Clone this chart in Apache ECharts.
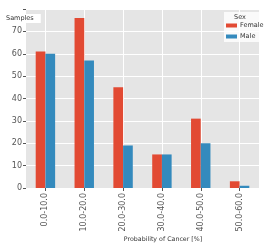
<!DOCTYPE html>
<html>
<head>
<meta charset="utf-8">
<script src="https://cdn.jsdelivr.net/npm/echarts@6/dist/echarts.min.js"></script>
<style>
html,body{margin:0;padding:0;background:#fff;}
#c{width:267px;height:244px;}
</style>
</head>
<body>
<div id="c"></div>
<script>
const categories = ['0.0-10.0', '10.0-20.0', '20.0-30.0', '30.0-40.0', '40.0-50.0', '50.0-60.0'];
const female = [61, 76, 45, 15, 31, 3];
const male = [60, 57, 19, 15, 20, 1];
const yTicks = [0, 10, 20, 30, 40, 50, 60, 70];

const font = 'DejaVu Sans';
const halfBands = [];
categories.forEach(c => { halfBands.push(c + 'a'); halfBands.push(c + 'b'); });

const chart = echarts.init(document.getElementById('c'), null, {renderer: 'canvas'});
chart.setOption({
  animation: false,
  backgroundColor: '#ffffff',
  textStyle: {fontFamily: font},
  title: [
    {text: 'Probability of Cancer [%]', left: 158, top: 231, textAlign: 'center',
     textStyle: {fontSize: 6.3, fontWeight: 'normal', color: '#333', fontFamily: font}},
    {text: 'Samples', left: 0, top: 14, backgroundColor: '#ffffff', padding: [1, 7, 1, 6],
     textStyle: {fontSize: 6.5, fontWeight: 'normal', color: '#333', fontFamily: font}},
    {text: 'Sex', left: 234, top: 14, padding: 0,
     textStyle: {fontSize: 6.5, fontWeight: 'normal', color: '#333', fontFamily: font}}
  ],
  legend: {
    orient: 'vertical', left: 224, top: 12, icon: 'rect',
    itemWidth: 11, itemHeight: 4, itemGap: 4,
    padding: [10, 0, 2, 2],
    backgroundColor: 'rgba(255,255,255,0.8)',
    textStyle: {fontSize: 6.5, color: '#333', fontFamily: font, padding: [0, 0, 0, -2]},
    data: ['Female', 'Male']
  },
  grid: {left: 26, right: 8, top: 9, bottom: 56, show: true, backgroundColor: '#E5E5E5', borderWidth: 0},
  xAxis: [
    {
      type: 'category', data: categories,
      axisLine: {show: false},
      axisTick: {show: true, alignWithLabel: true, length: 3, lineStyle: {color: '#555'}},
      axisLabel: {rotate: 90, fontSize: 8, color: '#555', margin: 5, fontFamily: font},
      splitLine: {show: false}
    },
    {
      type: 'category', data: halfBands, position: 'bottom',
      axisLine: {show: false}, axisTick: {show: false}, axisLabel: {show: false},
      splitLine: {show: true, interval: function (i) { return i % 2 === 1; }, lineStyle: {color: '#ffffff', width: 1}}
    }
  ],
  yAxis: {
    type: 'value', min: 0, max: 80, interval: 10,
    axisLine: {show: false},
    axisTick: {show: true, length: 3, lineStyle: {color: '#555'}},
    axisLabel: {fontSize: 8, color: '#555', margin: 4, fontFamily: font,
      formatter: v => (yTicks.indexOf(v) >= 0 ? String(v) : '')},
    splitLine: {show: true, lineStyle: {color: '#ffffff', width: 1}}
  },
  series: [
    {name: 'Female', type: 'bar', data: female, barWidth: '25%', barGap: '0%', itemStyle: {color: '#E24A33'}, xAxisIndex: 0},
    {name: 'Male', type: 'bar', data: male, barWidth: '25%', barGap: '0%', itemStyle: {color: '#348ABD'}, xAxisIndex: 0}
  ]
});
</script>
</body>
</html>
